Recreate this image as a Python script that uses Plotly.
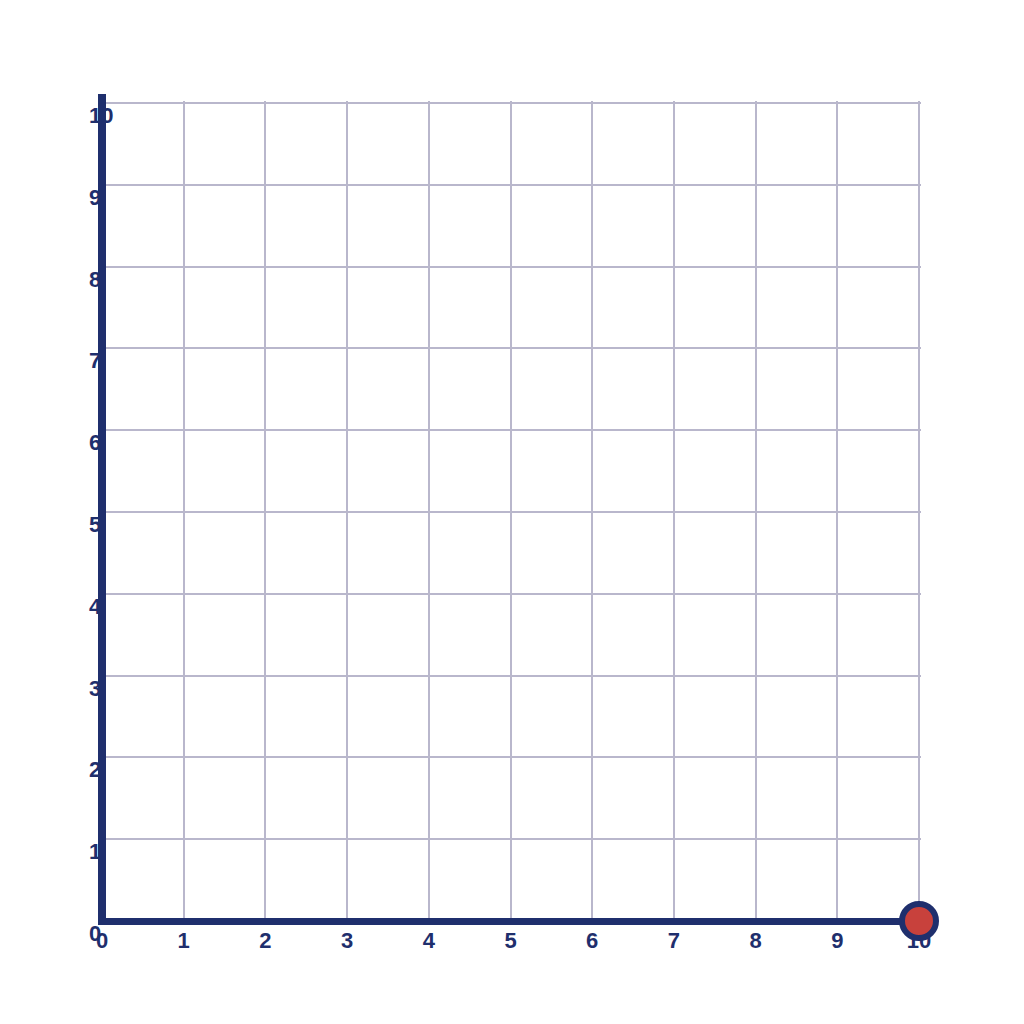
import plotly.graph_objects as go

# axis ticks (both axes 0..10)
x_ticks = list(range(0, 11))
y_ticks = list(range(0, 11))
tick_text = [str(v) for v in x_ticks]

# the single plotted point
point_x = [10]
point_y = [0]

NAVY = "#1f2f6d"
GRID = "#b9b7cc"
RED = "#c8413c"
FONT = dict(family="Liberation Sans, Arial, sans-serif", size=22, color=NAVY)

fig = go.Figure(go.Scatter(
    x=point_x, y=point_y, mode="markers", cliponaxis=False,
    marker=dict(size=34, color=RED, line=dict(color=NAVY, width=6)),
    showlegend=False, hoverinfo="skip",
))

# y labels sit just below their gridline, left-aligned over the axis line
for v in y_ticks:
    fig.add_annotation(x=0, y=v, xref="x", yref="y", text=f"<b>{v}</b>",
                       showarrow=False, xanchor="left", yanchor="top",
                       xshift=-15, yshift=2, font=FONT)

# small overshoot of the y axis line above the top gridline
fig.add_shape(type="line", xref="x", yref="paper", x0=0, x1=0, y0=1, y1=1 + 7 / 824,
              line=dict(color=NAVY, width=8), layer="below")

# ranges padded a few px so the axis lines (zerolines) sit centred on 0
# and the gridlines at 10 are not dropped at the plot edge
fig.update_layout(
    width=1024, height=1024,
    margin=dict(l=90, r=111, t=93, b=107),
    paper_bgcolor="white", plot_bgcolor="white",
    xaxis=dict(range=[-4 / 81.7, 10 + 2 / 81.7], tickvals=x_ticks,
               ticktext=[f"<b>{t}</b>" for t in tick_text],
               showgrid=True, gridcolor=GRID, gridwidth=2,
               zeroline=True, zerolinecolor=NAVY, zerolinewidth=8,
               showline=False, ticks="", tickfont=FONT, layer="below traces"),
    yaxis=dict(range=[-4 / 81.8, 10 + 2 / 81.8], tickvals=y_ticks, showticklabels=False,
               showgrid=True, gridcolor=GRID, gridwidth=2,
               zeroline=True, zerolinecolor=NAVY, zerolinewidth=7,
               showline=False, ticks="", layer="below traces"),
)

fig.write_html("out.html")
